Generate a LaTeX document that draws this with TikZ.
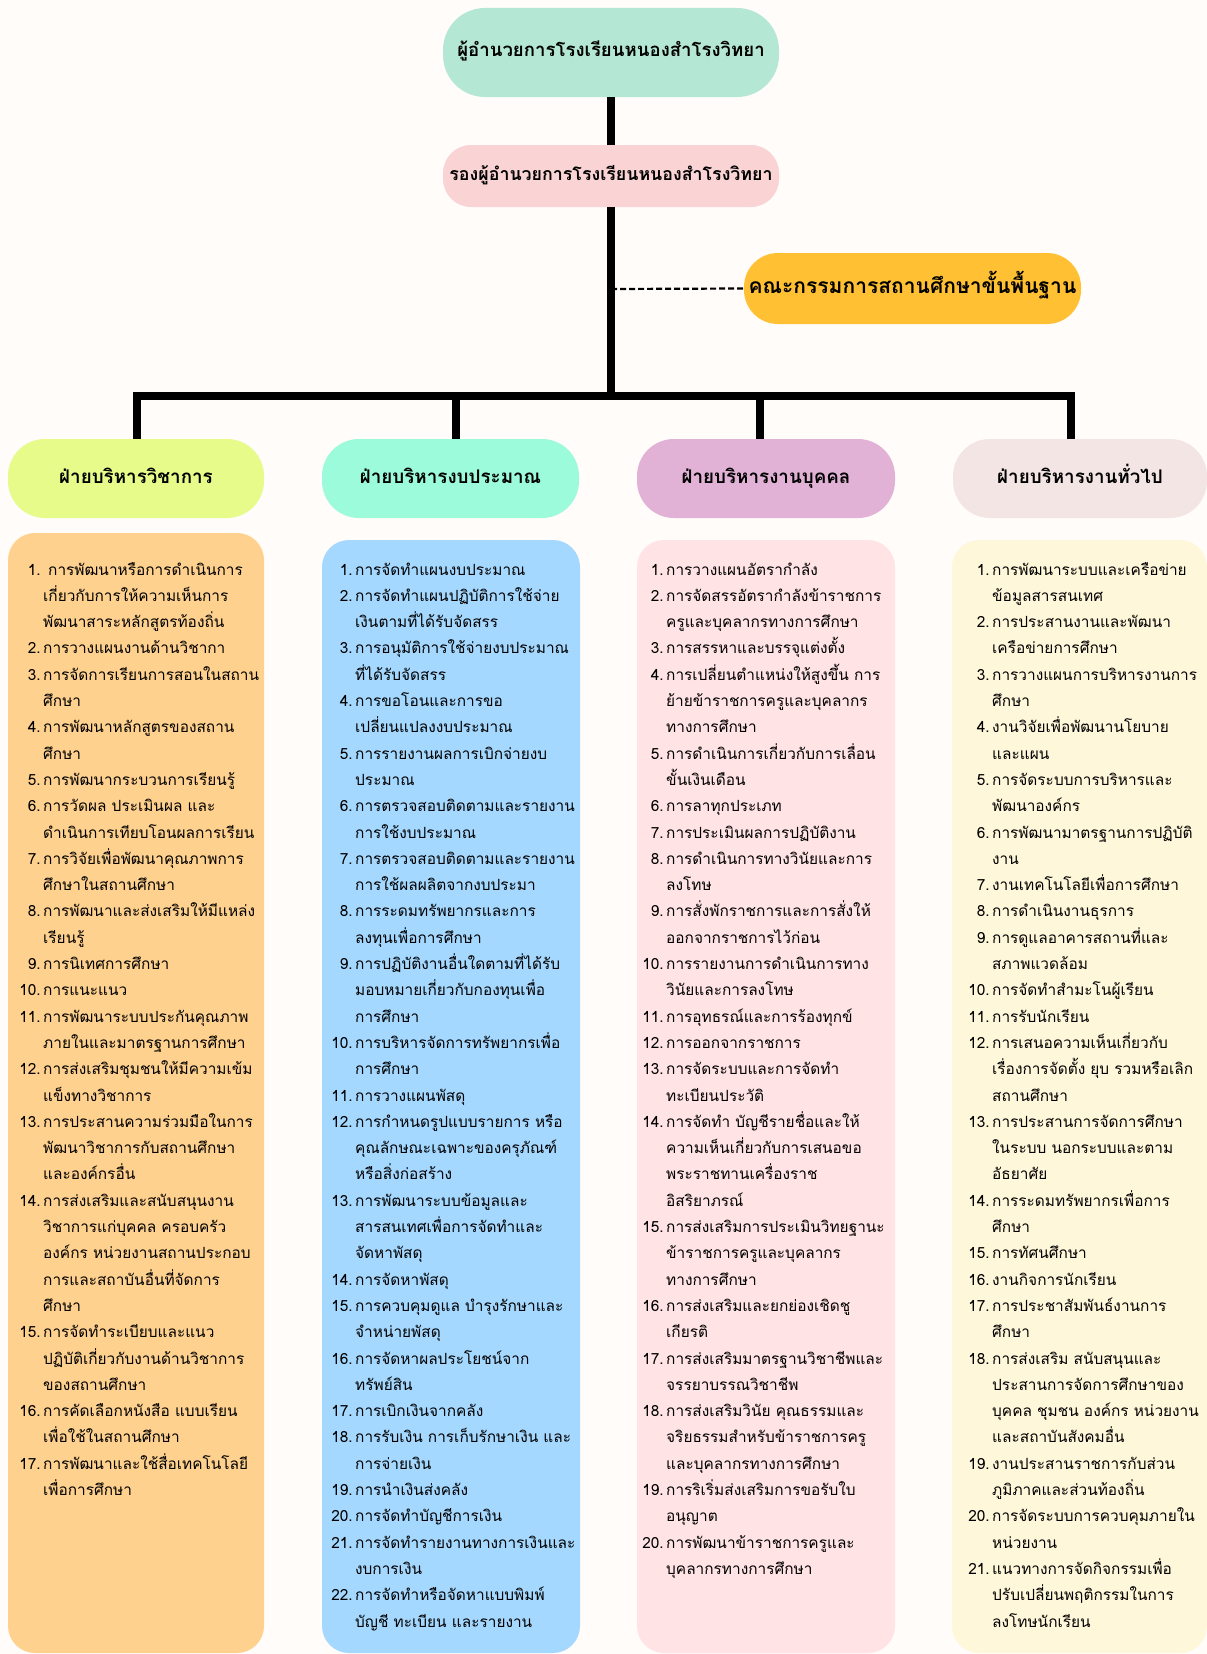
\documentclass[tikz,border=0pt]{standalone}
\usepackage{fontspec}
\setmainfont{Loma}[Script=Thai]
\definecolor{bgc}{HTML}{FFFCFA}
\definecolor{titlec}{HTML}{B4E8D5}
\definecolor{depc}{HTML}{FAD4D4}
\definecolor{comc}{HTML}{FFC133}
\definecolor{hao}{HTML}{E7FB8B}
\definecolor{hbo}{HTML}{9BFBDA}
\definecolor{hco}{HTML}{E1B1D6}
\definecolor{hdo}{HTML}{F2E5E3}
\definecolor{cao}{HTML}{FFD18E}
\definecolor{cbo}{HTML}{A5D8FF}
\definecolor{cco}{HTML}{FFE3E5}
\definecolor{cdo}{HTML}{FFF7DA}
\newcommand\nmb[1]{\llap{#1\hspace{2.5pt}}}
\begin{document}
\begin{tikzpicture}[x=1pt,y=-1pt,
  boxbase/.style={draw=none, inner sep=0pt, text=black, text height=14pt, text depth=5pt},
  headbox/.style={boxbase, minimum height=79pt, rounded corners=37pt, font=\fontsize{18.8}{24}\selectfont\bfseries},
  conn/.style={line width=7.4pt, black},
  dashline/.style={line width=2.2pt, black, dash pattern=on 6pt off 3pt},
  listtext/.style={anchor=base west, inner sep=0pt, text=black, font=\fontsize{15.4}{26.3}\selectfont}]
\fill[bgc] (0,0) rectangle (1207,1654);
\useasboundingbox (0,0) rectangle (1207,1654);

% top boxes
\node[boxbase, fill=titlec, minimum width=336pt, minimum height=89pt, rounded corners=42pt, font=\fontsize{18.6}{24}\selectfont\bfseries] (dir) at (611,52.5) {ผู้อำนวยการโรงเรียนหนองสำโรงวิทยา};
\node[boxbase, fill=depc, minimum width=336pt, minimum height=62pt, rounded corners=28pt, font=\fontsize{17.8}{24}\selectfont\bfseries] (dep) at (611,176) {รองผู้อำนวยการโรงเรียนหนองสำโรงวิทยา};
\node[boxbase, fill=comc, minimum width=337pt, minimum height=71pt, rounded corners=34pt, font=\fontsize{21}{26}\selectfont\bfseries] (com) at (912.5,288.5) {คณะกรรมการสถานศึกษาขั้นพื้นฐาน};

% headers
\node[headbox, fill=hao, minimum width=256pt] (h1) at (136,478.5) {ฝ่ายบริหารวิชาการ};
\node[headbox, fill=hbo, minimum width=257pt] (h2) at (450.5,478.5) {ฝ่ายบริหารงบประมาณ};
\node[headbox, fill=hco, minimum width=258pt] (h3) at (766,478.5) {ฝ่ายบริหารงานบุคคล};
\node[headbox, fill=hdo, minimum width=254pt] (h4) at (1080,478.5) {ฝ่ายบริหารงานทั่วไป};

% connectors
\coordinate (jn) at (611,396);
\coordinate (cm) at (611,289);
\coordinate (d1) at (137,396);
\coordinate (d2) at (456,396);
\coordinate (d3) at (760,396);
\coordinate (d4) at (1071,396);
\draw[conn] (dir.south) -- (dep.north);
\draw[conn] (dep.south) -- (jn);
\draw[conn] (d1 |- h1.north) -- (d1) -- (d4) -- (d4 |- h4.north);
\draw[conn] (d2) -- (d2 |- h2.north);
\draw[conn] (d3) -- (d3 |- h3.north);
\draw[dashline] (cm) -- (com.west);

% content boxes
\fill[cao, rounded corners=27pt] (8,533) rectangle (264,1653);
\fill[cbo, rounded corners=27pt] (322,540) rectangle (580,1653);
\fill[cco, rounded corners=27pt] (637,540) rectangle (895,1653);
\fill[cdo, rounded corners=27pt] (952,540) rectangle (1207,1653);

% column 1
\node[listtext] (t1) at (43,575) {\begin{tabular}[t]{@{}l@{}}
\nmb{1.}\hspace{5pt}การพัฒนาหรือการดำเนินการ\\
เกี่ยวกับการให้ความเห็นการ\\
พัฒนาสาระหลักสูตรท้องถิ่น\\
\nmb{2.}การวางแผนงานด้านวิชากา\\
\nmb{3.}การจัดการเรียนการสอนในสถาน\\
ศึกษา\\
\nmb{4.}การพัฒนาหลักสูตรของสถาน\\
ศึกษา\\
\nmb{5.}การพัฒนากระบวนการเรียนรู้\\
\nmb{6.}การวัดผล ประเมินผล และ\\
ดำเนินการเทียบโอนผลการเรียน\\
\nmb{7.}การวิจัยเพื่อพัฒนาคุณภาพการ\\
ศึกษาในสถานศึกษา\\
\nmb{8.}การพัฒนาและส่งเสริมให้มีแหล่ง\\
เรียนรู้\\
\nmb{9.}การนิเทศการศึกษา\\
\nmb{10.}การแนะแนว\\
\nmb{11.}การพัฒนาระบบประกันคุณภาพ\\
ภายในและมาตรฐานการศึกษา\\
\nmb{12.}การส่งเสริมชุมชนให้มีความเข้ม\\
แข็งทางวิชาการ\\
\nmb{13.}การประสานความร่วมมือในการ\\
พัฒนาวิชาการกับสถานศึกษา\\
และองค์กรอื่น\\
\nmb{14.}การส่งเสริมและสนับสนุนงาน\\
วิชาการแก่บุคคล ครอบครัว\\
องค์กร หน่วยงานสถานประกอบ\\
การและสถาบันอื่นที่จัดการ\\
ศึกษา\\
\nmb{15.}การจัดทำระเบียบและแนว\\
ปฏิบัติเกี่ยวกับงานด้านวิชาการ\\
ของสถานศึกษา\\
\nmb{16.}การคัดเลือกหนังสือ แบบเรียน\\
เพื่อใช้ในสถานศึกษา\\
\nmb{17.}การพัฒนาและใช้สื่อเทคโนโลยี\\
เพื่อการศึกษา
\end{tabular}};

% column 2
\node[listtext] (t2) at (355,575) {\begin{tabular}[t]{@{}l@{}}
\nmb{1.}การจัดทำแผนงบประมาณ\\
\nmb{2.}การจัดทำแผนปฏิบัติการใช้จ่าย\\
เงินตามที่ได้รับจัดสรร\\
\nmb{3.}การอนุมัติการใช้จ่ายงบประมาณ\\
ที่ได้รับจัดสรร\\
\nmb{4.}การขอโอนและการขอ\\
เปลี่ยนแปลงงบประมาณ\\
\nmb{5.}การรายงานผลการเบิกจ่ายงบ\\
ประมาณ\\
\nmb{6.}การตรวจสอบติดตามและรายงาน\\
การใช้งบประมาณ\\
\nmb{7.}การตรวจสอบติดตามและรายงาน\\
การใช้ผลผลิตจากงบประมา\\
\nmb{8.}การระดมทรัพยากรและการ\\
ลงทุนเพื่อการศึกษา\\
\nmb{9.}การปฏิบัติงานอื่นใดตามที่ได้รับ\\
มอบหมายเกี่ยวกับกองทุนเพื่อ\\
การศึกษา\\
\nmb{10.}การบริหารจัดการทรัพยากรเพื่อ\\
การศึกษา\\
\nmb{11.}การวางแผนพัสดุ\\
\nmb{12.}การกำหนดรูปแบบรายการ หรือ\\
คุณลักษณะเฉพาะของครุภัณฑ์\\
หรือสิ่งก่อสร้าง\\
\nmb{13.}การพัฒนาระบบข้อมูลและ\\
สารสนเทศเพื่อการจัดทำและ\\
จัดหาพัสดุ\\
\nmb{14.}การจัดหาพัสดุ\\
\nmb{15.}การควบคุมดูแล บำรุงรักษาและ\\
จำหน่ายพัสดุ\\
\nmb{16.}การจัดหาผลประโยชน์จาก\\
ทรัพย์สิน\\
\nmb{17.}การเบิกเงินจากคลัง\\
\nmb{18.}การรับเงิน การเก็บรักษาเงิน และ\\
การจ่ายเงิน\\
\nmb{19.}การนำเงินส่งคลัง\\
\nmb{20.}การจัดทำบัญชีการเงิน\\
\nmb{21.}การจัดทำรายงานทางการเงินและ\\
งบการเงิน\\
\nmb{22.}การจัดทำหรือจัดหาแบบพิมพ์\\
บัญชี ทะเบียน และรายงาน
\end{tabular}};

% column 3
\node[listtext] (t3) at (666,575) {\begin{tabular}[t]{@{}l@{}}
\nmb{1.}การวางแผนอัตรากำลัง\\
\nmb{2.}การจัดสรรอัตรากำลังข้าราชการ\\
ครูและบุคลากรทางการศึกษา\\
\nmb{3.}การสรรหาและบรรจุแต่งตั้ง\\
\nmb{4.}การเปลี่ยนตำแหน่งให้สูงขึ้น การ\\
ย้ายข้าราชการครูและบุคลากร\\
ทางการศึกษา\\
\nmb{5.}การดำเนินการเกี่ยวกับการเลื่อน\\
ขั้นเงินเดือน\\
\nmb{6.}การลาทุกประเภท\\
\nmb{7.}การประเมินผลการปฏิบัติงาน\\
\nmb{8.}การดำเนินการทางวินัยและการ\\
ลงโทษ\\
\nmb{9.}การสั่งพักราชการและการสั่งให้\\
ออกจากราชการไว้ก่อน\\
\nmb{10.}การรายงานการดำเนินการทาง\\
วินัยและการลงโทษ\\
\nmb{11.}การอุทธรณ์และการร้องทุกข์\\
\nmb{12.}การออกจากราชการ\\
\nmb{13.}การจัดระบบและการจัดทำ\\
ทะเบียนประวัติ\\
\nmb{14.}การจัดทำ บัญชีรายชื่อและให้\\
ความเห็นเกี่ยวกับการเสนอขอ\\
พระราชทานเครื่องราช\\
อิสริยาภรณ์\\
\nmb{15.}การส่งเสริมการประเมินวิทยฐานะ\\
ข้าราชการครูและบุคลากร\\
ทางการศึกษา\\
\nmb{16.}การส่งเสริมและยกย่องเชิดชู\\
เกียรติ\\
\nmb{17.}การส่งเสริมมาตรฐานวิชาชีพและ\\
จรรยาบรรณวิชาชีพ\\
\nmb{18.}การส่งเสริมวินัย คุณธรรมและ\\
จริยธรรมสำหรับข้าราชการครู\\
และบุคลากรทางการศึกษา\\
\nmb{19.}การริเริ่มส่งเสริมการขอรับใบ\\
อนุญาต\\
\nmb{20.}การพัฒนาข้าราชการครูและ\\
บุคลากรทางการศึกษา
\end{tabular}};

% column 4
\node[listtext] (t4) at (992,575) {\begin{tabular}[t]{@{}l@{}}
\nmb{1.}การพัฒนาระบบและเครือข่าย\\
ข้อมูลสารสนเทศ\\
\nmb{2.}การประสานงานและพัฒนา\\
เครือข่ายการศึกษา\\
\nmb{3.}การวางแผนการบริหารงานการ\\
ศึกษา\\
\nmb{4.}งานวิจัยเพื่อพัฒนานโยบาย\\
และแผน\\
\nmb{5.}การจัดระบบการบริหารและ\\
พัฒนาองค์กร\\
\nmb{6.}การพัฒนามาตรฐานการปฏิบัติ\\
งาน\\
\nmb{7.}งานเทคโนโลยีเพื่อการศึกษา\\
\nmb{8.}การดำเนินงานธุรการ\\
\nmb{9.}การดูแลอาคารสถานที่และ\\
สภาพแวดล้อม\\
\nmb{10.}การจัดทำสำมะโนผู้เรียน\\
\nmb{11.}การรับนักเรียน\\
\nmb{12.}การเสนอความเห็นเกี่ยวกับ\\
เรื่องการจัดตั้ง ยุบ รวมหรือเลิก\\
สถานศึกษา\\
\nmb{13.}การประสานการจัดการศึกษา\\
ในระบบ นอกระบบและตาม\\
อัธยาศัย\\
\nmb{14.}การระดมทรัพยากรเพื่อการ\\
ศึกษา\\
\nmb{15.}การทัศนศึกษา\\
\nmb{16.}งานกิจการนักเรียน\\
\nmb{17.}การประชาสัมพันธ์งานการ\\
ศึกษา\\
\nmb{18.}การส่งเสริม สนับสนุนและ\\
ประสานการจัดการศึกษาของ\\
บุคคล ชุมชน องค์กร หน่วยงาน\\
และสถาบันสังคมอื่น\\
\nmb{19.}งานประสานราชการกับส่วน\\
ภูมิภาคและส่วนท้องถิ่น\\
\nmb{20.}การจัดระบบการควบคุมภายใน\\
หน่วยงาน\\
\nmb{21.}แนวทางการจัดกิจกรรมเพื่อ\\
ปรับเปลี่ยนพฤติกรรมในการ\\
ลงโทษนักเรียน
\end{tabular}};
\end{tikzpicture}
\end{document}
